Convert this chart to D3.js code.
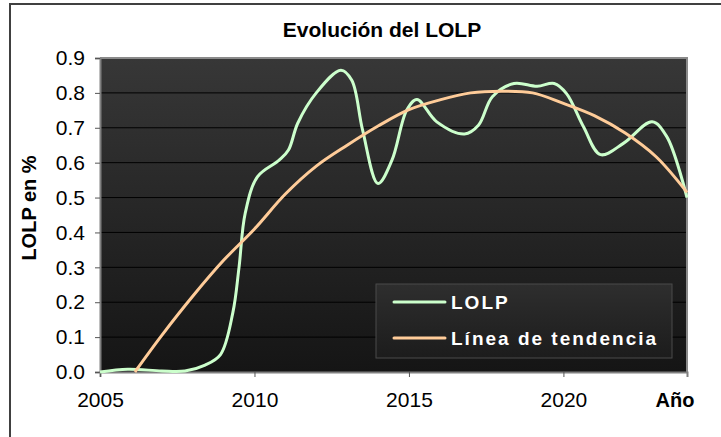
<!DOCTYPE html>
<html>
<head>
<meta charset="utf-8">
<script src="https://cdn.jsdelivr.net/npm/d3@7"></script>
<style>
body { margin: 0; background: #fff; }
text { font-family: "Liberation Sans", Arial, sans-serif; }
</style>
</head>
<body>
<div id="chart"></div>
<script>
////// DATA ////////
var lolpYears = [2005.0, 2005.9, 2007.0, 2007.75, 2008.4, 2008.9, 2009.3, 2009.5, 2009.7, 2010.1,
	2010.8, 2011.1, 2011.4, 2012.0, 2012.8, 2013.15, 2013.5, 2014.0, 2014.45, 2014.93,
	2015.26, 2015.9, 2016.8, 2017.25, 2017.7, 2018.4, 2019.15, 2019.7, 2020.1, 2020.65,
	2021.2, 2021.95, 2022.87, 2023.35, 2024.0];
var lolpValues = [0.000, 0.008, 0.003, 0.003, 0.020, 0.050, 0.170, 0.300, 0.455, 0.560,
	0.607, 0.636, 0.713, 0.800, 0.865, 0.836, 0.693, 0.540, 0.607, 0.751,
	0.781, 0.717, 0.682, 0.707, 0.789, 0.827, 0.819, 0.827, 0.798, 0.703,
	0.623, 0.656, 0.717, 0.674, 0.500];

var trendYears = [2006.13, 2007, 2008, 2009, 2010, 2011, 2012, 2013, 2014, 2015,
	2016, 2017, 2018, 2019, 2020, 2021, 2022, 2023, 2024];
var trendValues = [0.000, 0.105, 0.217, 0.320, 0.410, 0.510, 0.590, 0.650, 0.705, 0.752,
	0.780, 0.800, 0.805, 0.800, 0.770, 0.735, 0.685, 0.617, 0.515];

var xTicks = [2005, 2010, 2015, 2020];
var yTicks = [0, 0.1, 0.2, 0.3, 0.4, 0.5, 0.6, 0.7, 0.8, 0.9];
var seriesNames = ["LOLP", "Línea de tendencia"];
var seriesColours = ["#ccffcc", "#ffcc99"];
///////////////////////

var w = 721;
var h = 437;
// plot area edges (window.top is taken, so own names)
var pLeft = 100, pRight = 687, pTop = 58, pBottom = 372;

var svg = d3.select("#chart")
.append("svg")
.attr("width", w)
.attr("height", h);

// outer frame (runs off the right and bottom edges)
svg.append("rect")
.attr("x", 10).attr("y", 4)
.attr("width", 730).attr("height", 440)
.attr("fill", "#fff")
.attr("stroke", "#404040")
.attr("stroke-width", 2);

var xScale = d3.scaleLinear()
	.domain([2005, 2024])
	.range([pLeft, pRight]);

var yScale = d3.scaleLinear()
	.domain([0, 0.9])
	.range([pBottom, pTop]);

// plot background gradient
var defs = svg.append("defs");
var bg = defs.append("linearGradient").attr("id", "bg")
	.attr("x1", 0).attr("y1", 0).attr("x2", 0).attr("y2", 1);
bg.append("stop").attr("offset", "0%").attr("stop-color", "#373737");
bg.append("stop").attr("offset", "100%").attr("stop-color", "#151515");

var lg = defs.append("linearGradient").attr("id", "lg")
	.attr("x1", 0).attr("y1", 0).attr("x2", 0).attr("y2", 1);
lg.append("stop").attr("offset", "0%").attr("stop-color", "#2e2e2e");
lg.append("stop").attr("offset", "100%").attr("stop-color", "#1c1c1c");

svg.append("rect")
.attr("x", pLeft).attr("y", pTop)
.attr("width", pRight - pLeft).attr("height", pBottom - pTop)
.attr("fill", "url(#bg)");

// grid
svg.selectAll("line.grid")
.data(yTicks.slice(1, -1))
.enter()
.append("line")
.attr("class", "grid")
.attr("x1", pLeft).attr("x2", pRight)
.attr("y1", function (d) { return yScale(d); })
.attr("y2", function (d) { return yScale(d); })
.attr("stroke", "#000")
.attr("stroke-width", 1);

// plot border top/right
svg.append("path")
.attr("d", "M" + pLeft + "," + pTop + "H" + pRight + "V" + pBottom)
.attr("fill", "none")
.attr("stroke", "#8a8a8a")
.attr("stroke-width", 2);

// axes
var yAxis = d3.axisLeft(yScale)
	.tickValues(yTicks)
	.tickFormat(d3.format(".1f"))
	.tickSize(5)
	.tickPadding(10);

var xAxis = d3.axisBottom(xScale)
	.tickValues(xTicks)
	.tickFormat(d3.format("d"))
	.tickSize(5)
	.tickPadding(15);

var gy = svg.append("g")
.attr("transform", "translate(" + pLeft + ",0)")
.call(yAxis);

var gx = svg.append("g")
.attr("transform", "translate(0," + pBottom + ")")
.call(xAxis);

[gx, gy].forEach(function (g) {
	g.select(".domain").attr("stroke", "#808080").attr("stroke-width", 2);
	g.selectAll(".tick line").attr("stroke", "#555");
	g.selectAll(".tick text")
	.attr("fill", "#000")
	.style("font-size", "21px")
	.style("font-family", "'Liberation Sans', Arial, sans-serif");
});

// series
var lolpData = lolpYears.map(function (y, i) { return [y, lolpValues[i]]; });
var trendData = trendYears.map(function (y, i) { return [y, trendValues[i]]; });

var line = d3.line()
	.x(function (d) { return xScale(d[0]); })
	.y(function (d) { return yScale(d[1]); })
	.curve(d3.curveCatmullRom.alpha(0.5));

svg.append("path")
.datum(lolpData)
.attr("d", line)
.attr("fill", "none")
.attr("stroke", seriesColours[0])
.attr("stroke-width", 3);

svg.append("path")
.datum(trendData)
.attr("d", line)
.attr("fill", "none")
.attr("stroke", seriesColours[1])
.attr("stroke-width", 3);

// legend
svg.append("rect")
.attr("x", 376).attr("y", 284)
.attr("width", 296).attr("height", 74)
.attr("fill", "url(#lg)")
.attr("stroke", "#4a4a4a")
.attr("stroke-width", 1);

var legend = svg.selectAll("g.legend")
.data(seriesNames)
.enter()
.append("g")
.attr("class", "legend")
.attr("transform", function (d, i) { return "translate(0," + (302 + i * 36) + ")"; });

legend.append("line")
.attr("x1", 394).attr("x2", 445)
.attr("stroke", function (d, i) { return seriesColours[i]; })
.attr("stroke-width", 3)
.attr("stroke-linecap", "round");

legend.append("text")
.attr("x", 451).attr("y", 7)
.attr("fill", "#fff")
.style("font-size", "19px")
.style("font-weight", "bold")
.style("letter-spacing", "2px")
.text(function (d) { return d; });

// titles
svg.append("text")
.attr("x", 382).attr("y", 37)
.attr("text-anchor", "middle")
.style("font-size", "21px")
.style("font-weight", "bold")
.text("Evolución del LOLP");

svg.append("text")
.attr("transform", "translate(36,208) rotate(-90)")
.attr("text-anchor", "middle")
.style("font-size", "20px")
.style("font-weight", "bold")
.text("LOLP en %");

svg.append("text")
.attr("x", 675).attr("y", 407)
.attr("text-anchor", "middle")
.style("font-size", "20px")
.style("font-weight", "bold")
.text("Año");
</script>
</body>
</html>
